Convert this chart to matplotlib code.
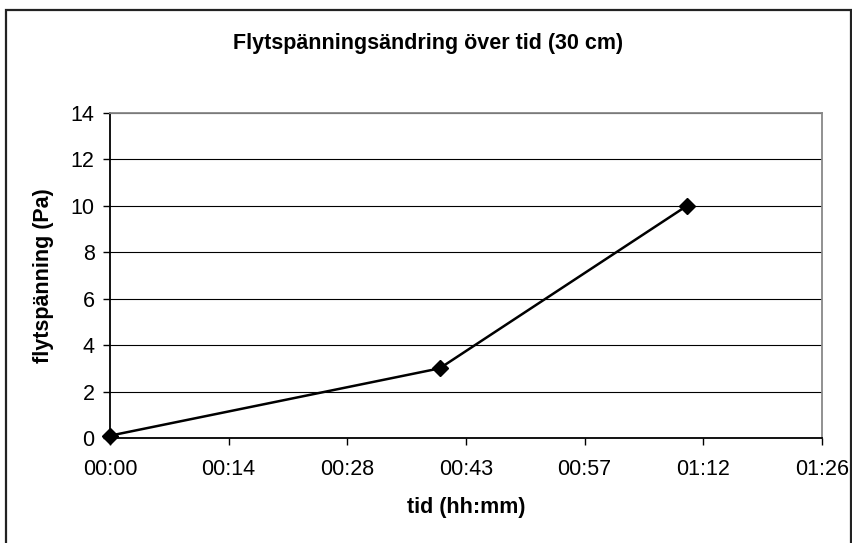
import matplotlib
matplotlib.use("Agg")
import matplotlib.pyplot as plt
from matplotlib.ticker import FixedLocator, FuncFormatter
from matplotlib.patches import Rectangle

plt.rcParams['font.family'] = ['Liberation Sans', 'DejaVu Sans']

# elapsed time in minutes and measured yield stress
time_min = [0, 40, 70]
yield_stress = [0.1, 3, 10]

# x ticks every 0.01 day (14.4 min), as hh:mm
x_ticks = [0, 14.4, 28.8, 43.2, 57.6, 72.0, 86.4]
y_ticks = [0, 2, 4, 6, 8, 10, 12, 14]

title = "Flytspänningsändring över tid (30 cm)"
xlabel = "tid (hh:mm)"
ylabel = "flytspänning (Pa)"

FS = 15.5


def hhmm(v, pos=None):
    total = int(v)
    return f"{total // 60:02d}:{total % 60:02d}"


fig = plt.figure(figsize=(8.52, 5.43), dpi=100)
fig.patch.set_facecolor("white")

# outer chart frame
fig.patches.append(Rectangle((6 / 852, -0.01), (851 - 6) / 852, 1 - 10 / 543 + 0.01,
                             transform=fig.transFigure, fill=False,
                             edgecolor="#222222", linewidth=1.6))

ax = fig.add_axes([110 / 852, (543 - 438) / 543, 712 / 852, 325 / 543])
ax.set_xlim(0, 86.4)
ax.set_ylim(0, 14)

ax.xaxis.set_major_locator(FixedLocator(x_ticks))
ax.xaxis.set_major_formatter(FuncFormatter(hhmm))
ax.yaxis.set_major_locator(FixedLocator(y_ticks))

ax.yaxis.grid(True, color="black", linewidth=0.8)
ax.set_axisbelow(True)

ax.plot(time_min, yield_stress, color="black", linewidth=1.8,
        marker="D", markersize=7.8, markerfacecolor="black",
        markeredgecolor="black", clip_on=False, zorder=5)

for side in ("left", "bottom"):
    ax.spines[side].set_color("black")
    ax.spines[side].set_linewidth(1.3)
for side in ("top", "right"):
    ax.spines[side].set_color("#888888")
    ax.spines[side].set_linewidth(1.3)

ax.tick_params(axis="both", direction="out", length=5, width=1,
               color="black", labelsize=FS)
ax.tick_params(axis="y", pad=6)
ax.tick_params(axis="x", pad=10)

ax.set_xlabel(xlabel, fontsize=FS, fontweight="bold", labelpad=12)
ax.set_ylabel(ylabel, fontsize=FS, fontweight="bold", labelpad=12)

fig.text(428 / 852, 1 - 44 / 543, title, ha="center", va="center",
         fontsize=FS, fontweight="bold")

fig.savefig("out.png", dpi=100)
